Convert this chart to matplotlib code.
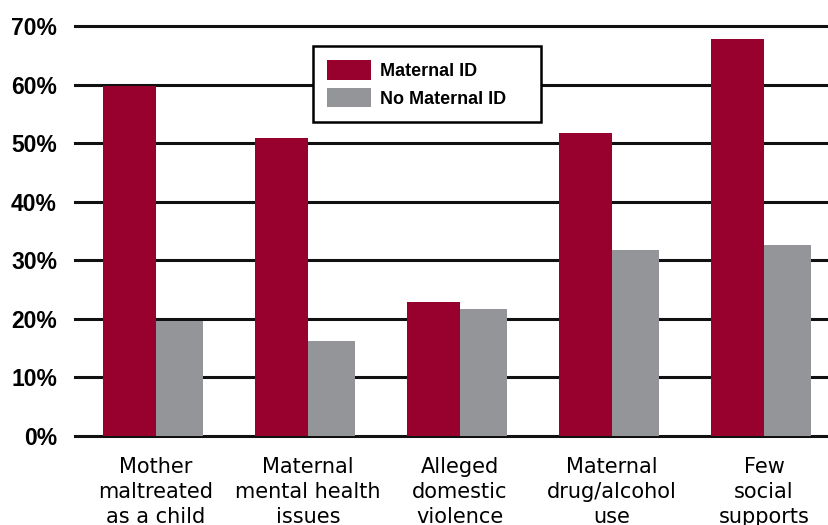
import numpy as np
import matplotlib.pyplot as plt
from matplotlib.patches import Patch

categories = ["Mother\nmaltreated\nas a child", "Maternal\nmental health\nissues",
              "Alleged\ndomestic\nviolence", "Maternal\ndrug/alcohol\nuse",
              "Few\nsocial\nsupports"]
maternal_id = [59.8, 50.8, 22.8, 51.8, 67.8]
no_maternal_id = [19.6, 16.2, 21.7, 31.7, 32.6]
yticks = [0, 10, 20, 30, 40, 50, 60, 70]
series_names = ["Maternal ID", "No Maternal ID"]

red = "#98002e"
gray = "#939598"

fig = plt.figure(figsize=(8.29, 5.25), dpi=100)
ax = fig.add_axes([75 / 829, 89 / 525, 754 / 829, 410 / 525])

x = np.arange(len(categories))
w_red = 53 / 152
w_gray = 47 / 152
ax.bar(x + 0.02 - w_red, maternal_id, width=w_red, align="edge", color=red, zorder=3)
ax.bar(x + 0.02, no_maternal_id, width=w_gray, align="edge", color=gray, zorder=3)

for t in yticks:
    ax.axhline(t, color="#111111", lw=2.2, zorder=1, clip_on=False)

ax.set_xlim(-0.513, 4.447)
ax.set_ylim(0, 70)
ax.set_yticks(yticks)
ax.set_yticklabels([f"{t}%" for t in yticks], fontsize=16.5, fontweight="bold",
                   family=["Liberation Sans", "DejaVu Sans"])
ax.set_xticks(x + 0.02)
ax.set_xticklabels(categories, fontsize=15, linespacing=1.33,
                   family=["Liberation Sans Narrow", "DejaVu Sans"])
ax.tick_params(axis="both", length=0)
ax.tick_params(axis="y", pad=13)
ax.tick_params(axis="x", pad=15)
for s in ax.spines.values():
    s.set_visible(False)

handles = [Patch(facecolor=red), Patch(facecolor=gray)]
leg = ax.legend(handles, series_names, loc="upper left",
                bbox_to_anchor=((313 - 75) / 754, (436 - 126) / 410, 228 / 754, 80 / 410),
                mode="expand", fancybox=False, framealpha=1, edgecolor="black",
                handlelength=2.4, handleheight=1.25, handletextpad=0.5,
                labelspacing=0.45, borderpad=0.8, borderaxespad=0,
                prop={"family": ["Liberation Sans", "DejaVu Sans"], "weight": "bold", "size": 13})
leg.get_frame().set_linewidth(1.8)
leg.set_zorder(5)

fig.savefig("out.png", dpi=100)
